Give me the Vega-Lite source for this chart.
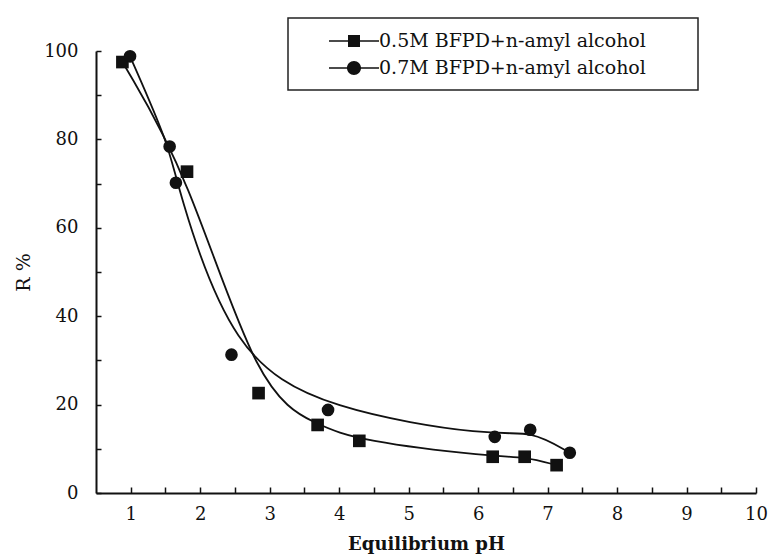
{
  "$schema": "https://vega.github.io/schema/vega-lite/v6.json",
  "width": 660,
  "height": 442,
  "autosize": {"type": "none"},
  "padding": {"left": 96, "top": 51, "right": 14, "bottom": 66},
  "background": "white",
  "config": {
    "view": {"stroke": null},
    "font": "DejaVu Serif",
    "axis": {
      "grid": false,
      "domainColor": "#111",
      "domainWidth": 2,
      "tickColor": "#111",
      "tickWidth": 1.5,
      "labelColor": "#111",
      "titleColor": "#111",
      "labelFont": "DejaVu Serif",
      "titleFont": "DejaVu Serif",
      "labelFontSize": 18,
      "labelOverlap": false,
      "labelFlush": false
    },
    "legend": {"strokeWidth": 1.5}
  },
  "data": {
    "values": [
      {"series": "0.5M BFPD+n-amyl alcohol", "pH": 0.88, "R": 97.5},
      {"series": "0.5M BFPD+n-amyl alcohol", "pH": 1.81, "R": 72.7},
      {"series": "0.5M BFPD+n-amyl alcohol", "pH": 2.84, "R": 22.6},
      {"series": "0.5M BFPD+n-amyl alcohol", "pH": 3.69, "R": 15.4},
      {"series": "0.5M BFPD+n-amyl alcohol", "pH": 4.29, "R": 11.8},
      {"series": "0.5M BFPD+n-amyl alcohol", "pH": 6.21, "R": 8.2},
      {"series": "0.5M BFPD+n-amyl alcohol", "pH": 6.67, "R": 8.2},
      {"series": "0.5M BFPD+n-amyl alcohol", "pH": 7.13, "R": 6.3},
      {"series": "0.7M BFPD+n-amyl alcohol", "pH": 0.99, "R": 98.8},
      {"series": "0.7M BFPD+n-amyl alcohol", "pH": 1.56, "R": 78.4},
      {"series": "0.7M BFPD+n-amyl alcohol", "pH": 1.65, "R": 70.2},
      {"series": "0.7M BFPD+n-amyl alcohol", "pH": 2.45, "R": 31.3},
      {"series": "0.7M BFPD+n-amyl alcohol", "pH": 3.84, "R": 18.8},
      {"series": "0.7M BFPD+n-amyl alcohol", "pH": 6.24, "R": 12.7},
      {"series": "0.7M BFPD+n-amyl alcohol", "pH": 6.75, "R": 14.3},
      {"series": "0.7M BFPD+n-amyl alcohol", "pH": 7.32, "R": 9.1}
    ]
  },
  "encoding": {
    "x": {
      "field": "pH",
      "type": "quantitative",
      "scale": {"domain": [0.5, 10], "nice": false, "zero": false},
      "axis": {
        "title": "Equilibrium pH",
        "titleFontSize": 18,
        "titleFontWeight": "bold",
        "titlePadding": 12,
        "values": [1, 1.5, 2, 2.5, 3, 3.5, 4, 4.5, 5, 5.5, 6, 6.5, 7, 7.5, 8, 8.5, 9, 9.5, 10],
        "labelExpr": "datum.value % 1 == 0 ? format(datum.value, 'd') : ''",
        "tickSize": -6,
        "labelPadding": 18
      }
    },
    "y": {
      "field": "R",
      "type": "quantitative",
      "scale": {"domain": [0, 100], "nice": false},
      "axis": {
        "title": "R %",
        "titleFontSize": 19,
        "titleFontWeight": "normal",
        "titlePadding": 10,
        "values": [0, 10, 20, 30, 40, 50, 60, 70, 80, 90, 100],
        "labelExpr": "datum.value % 20 == 0 ? format(datum.value, 'd') : ''",
        "tickSize": -5,
        "labelPadding": 23
      }
    }
  },
  "layer": [
    {
      "mark": {"type": "line", "interpolate": "basis", "color": "#111", "strokeWidth": 1.8},
      "encoding": {"detail": {"field": "series", "type": "nominal"}}
    },
    {
      "mark": {"type": "point", "filled": true, "color": "#111", "opacity": 1, "size": 160},
      "encoding": {
        "shape": {
          "field": "series",
          "type": "nominal",
          "scale": {"range": ["square", "circle"]},
          "legend": null
        }
      }
    },
    {
      "mark": {"type": "point", "filled": true, "fill": "#111", "opacity": 0},
      "encoding": {
        "shape": {
          "field": "series",
          "type": "nominal",
          "scale": {"range": ["M-2.5,-0.08H2.5V0.08H-2.5ZM-0.6,-0.6H0.6V0.6H-0.6Z", "M-2.5,-0.08H2.5V0.08H-2.5ZM0.7,0A0.7,0.7,0,1,1,-0.7,0A0.7,0.7,0,1,1,0.7,0Z"]},
          "legend": {
            "title": ".",
            "titleOrient": "right",
            "titleColor": "white",
            "titleFontSize": 10,
            "titlePadding": 36,
            "orient": "none",
            "legendX": 192,
            "legendY": -33,
            "padding": 12,
            "strokeColor": "#222",
            "fillColor": "white",
            "symbolSize": 400,
            "symbolOpacity": 1,
            "symbolFillColor": "#111",
            "symbolOffset": 43,
            "labelOffset": 14,
            "labelFontSize": 19,
            "labelFont": "DejaVu Serif",
            "labelColor": "#111",
            "labelLimit": 600,
            "rowPadding": 6
          }
        }
      }
    }
  ],
  "resolve": {"scale": {"shape": "independent"}, "legend": {"shape": "independent"}}
}
